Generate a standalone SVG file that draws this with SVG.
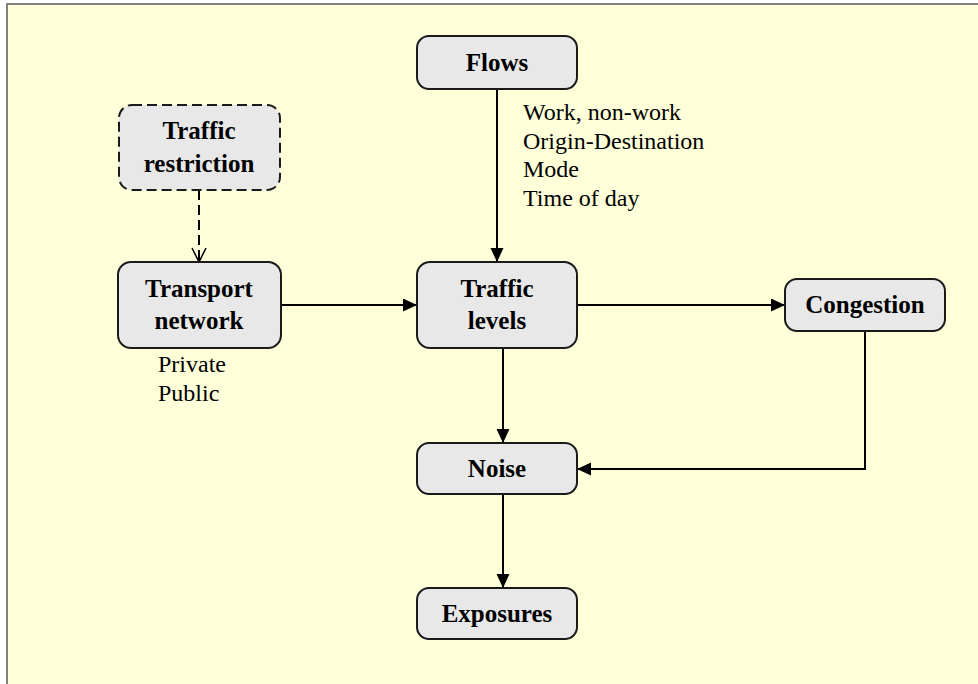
<svg xmlns="http://www.w3.org/2000/svg" width="978" height="684" viewBox="0 0 978 684">
<style>
.node rect{fill:#e8e8e8;stroke:#1a1a1a;stroke-width:2}
.dash rect{stroke-dasharray:10 5}
.t{font-family:"Liberation Serif","Times New Roman",serif;font-weight:bold;font-size:25px;fill:#000;text-anchor:middle}
.l{font-family:"Liberation Serif","Times New Roman",serif;font-size:24px;fill:#000}
.c{stroke:#000;stroke-width:2;fill:none}
</style>
<defs>
<marker id="ah" markerWidth="14" markerHeight="14" refX="14" refY="6.5" orient="auto" markerUnits="userSpaceOnUse">
<path d="M0,0 L14,6.5 L0,13 z" fill="#000"/>
</marker>
<marker id="oh" markerWidth="16" markerHeight="16" refX="15" refY="8" orient="auto" markerUnits="userSpaceOnUse">
<path d="M1,1 L15,8 L1,15" fill="none" stroke="#000" stroke-width="1.5"/>
</marker>
</defs>
<rect x="0" y="0" width="978" height="684" fill="#fff"/>
<rect x="8" y="5" width="970" height="679" fill="#ffffd9"/>
<path d="M7,684 V4 H978" fill="none" stroke="#808080" stroke-width="2"/>
<g id="connectors">
<path class="c" d="M199,190 V262" stroke-dasharray="10 5" marker-end="url(#oh)"/>
<path class="c" d="M497,89 V262" marker-end="url(#ah)"/>
<path class="c" d="M281,305 H417" marker-end="url(#ah)"/>
<path class="c" d="M577,305 H785" marker-end="url(#ah)"/>
<path class="c" d="M503,348 V443" marker-end="url(#ah)"/>
<path class="c" d="M865,331 V469 H577" marker-end="url(#ah)"/>
<path class="c" d="M503,494 V588" marker-end="url(#ah)"/>
</g>
<g id="restriction" class="node dash">
<rect x="119" y="105" width="161" height="85" rx="13"/>
<text class="t" x="199" y="139">Traffic</text>
<text class="t" x="199" y="172">restriction</text>
</g>
<g id="transport" class="node">
<rect x="118" y="262" width="163" height="86" rx="13"/>
<text class="t" x="199" y="297">Transport</text>
<text class="t" x="199" y="329">network</text>
<text class="l" x="158" y="372">Private</text>
<text class="l" x="158" y="401">Public</text>
</g>
<g id="flows" class="node">
<rect x="417" y="36" width="160" height="53" rx="12"/>
<text class="t" x="497" y="71">Flows</text>
<text class="l" x="523" y="120">Work, non-work</text>
<text class="l" x="523" y="149">Origin-Destination</text>
<text class="l" x="523" y="177">Mode</text>
<text class="l" x="523" y="206">Time of day</text>
</g>
<g id="levels" class="node">
<rect x="417" y="262" width="160" height="86" rx="13"/>
<text class="t" x="497" y="297">Traffic</text>
<text class="t" x="497" y="329">levels</text>
</g>
<g id="congestion" class="node">
<rect x="785" y="279" width="160" height="52" rx="12"/>
<text class="t" x="865" y="313">Congestion</text>
</g>
<g id="noise" class="node">
<rect x="417" y="443" width="160" height="51" rx="12"/>
<text class="t" x="497" y="477">Noise</text>
</g>
<g id="exposures" class="node">
<rect x="417" y="588" width="160" height="51" rx="12"/>
<text class="t" x="497" y="622">Exposures</text>
</g>
</svg>
